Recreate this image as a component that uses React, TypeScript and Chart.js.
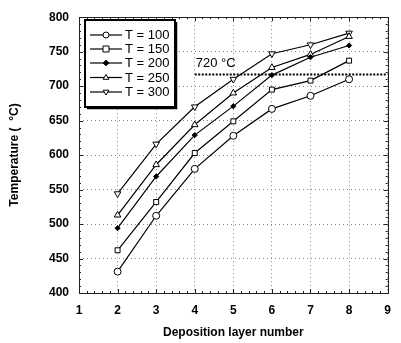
import React, { useEffect, useRef } from 'react';
import { Chart, registerables } from 'chart.js';
Chart.register(...registerables);

const layers = [2, 3, 4, 5, 6, 7, 8];
const t100 = [431, 512, 580, 628, 667, 686, 710];
const t150 = [462, 532, 603, 649, 695, 708, 737];
const t200 = [494, 569, 629, 671, 716, 742, 759];
const t250 = [513, 586, 644, 690, 727, 746, 772];
const t300 = [544, 616, 670, 710, 747, 760, 777];
const seriesLabels = ['T = 100', 'T = 150', 'T = 200', 'T = 250', 'T = 300'];
const thresholdValue = 717;
const thresholdRange = [4, 9];
const thresholdLabel = '720 °C';
const xTitle = 'Deposition layer number';
const yTitle = 'Temperature (  °C)';
const xRange = [1, 9];
const yRange = [400, 800];
const xStep = 1;
const yStep = 50;
const xMinorStep = 0.2;
const yMinorStep = 10;

const FONT = '"Liberation Sans", Arial, Helvetica, sans-serif';
const allSeries = [t100, t150, t200, t250, t300];
const pointStyles = ['circle', 'rect', 'rectRot', 'triangle', 'triangle'];
const pointRotations = [0, 0, 0, 0, 180];
const pointRadii = [3.5, 3.5, 2.6, 3.8, 3.8];
const pointFills = ['#fff', '#fff', '#000', '#fff', '#fff'];

function drawMarker(ctx: CanvasRenderingContext2D, style: string, rot: number, x: number, y: number, r: number, fill: string) {
  ctx.save();
  ctx.beginPath();
  if (style === 'circle') {
    ctx.arc(x, y, r, 0, Math.PI * 2);
  } else if (style === 'rect') {
    ctx.rect(x - r, y - r, 2 * r, 2 * r);
  } else if (style === 'rectRot') {
    ctx.moveTo(x, y - r * 1.3);
    ctx.lineTo(x + r * 1.3, y);
    ctx.lineTo(x, y + r * 1.3);
    ctx.lineTo(x - r * 1.3, y);
    ctx.closePath();
  } else {
    const s = rot === 180 ? -1 : 1;
    ctx.moveTo(x, y - s * r);
    ctx.lineTo(x + r * 0.95, y + s * r * 0.6);
    ctx.lineTo(x - r * 0.95, y + s * r * 0.6);
    ctx.closePath();
  }
  ctx.fillStyle = fill;
  ctx.fill();
  ctx.strokeStyle = '#000';
  ctx.lineWidth = 1;
  ctx.stroke();
  ctx.restore();
}

const decorPlugin = {
  id: 'decor',
  afterDraw(chart: any) {
    const { ctx, chartArea } = chart;
    const xs = chart.scales.x;
    const ys = chart.scales.y;
    const { left, right, top, bottom } = chartArea;
    ctx.save();
    // frame
    ctx.strokeStyle = '#222';
    ctx.lineWidth = 1;
    ctx.strokeRect(Math.round(left) + 0.5, Math.round(top) + 0.5, Math.round(right - left), Math.round(bottom - top));
    // ticks
    ctx.beginPath();
    for (let v = xRange[0]; v <= xRange[1] + 1e-6; v += xMinorStep) {
      const isMajor = Math.abs(v - Math.round(v / xStep) * xStep) < 1e-6;
      const len = isMajor ? 4 : 2;
      const px = Math.round(xs.getPixelForValue(v)) + 0.5;
      ctx.moveTo(px, bottom);
      ctx.lineTo(px, bottom - len);
      ctx.moveTo(px, top);
      ctx.lineTo(px, top + len);
    }
    for (let v = yRange[0]; v <= yRange[1] + 1e-6; v += yMinorStep) {
      const isMajor = Math.abs(v - Math.round(v / yStep) * yStep) < 1e-6;
      const len = isMajor ? 4 : 2;
      const py = Math.round(ys.getPixelForValue(v)) + 0.5;
      ctx.moveTo(left, py);
      ctx.lineTo(left + len, py);
      ctx.moveTo(right, py);
      ctx.lineTo(right - len, py);
    }
    ctx.stroke();

    // threshold label
    ctx.fillStyle = '#000';
    ctx.font = `13px ${FONT}`;
    ctx.textAlign = 'left';
    ctx.textBaseline = 'middle';
    ctx.fillText(thresholdLabel, xs.getPixelForValue(thresholdRange[0]) + 1, ys.getPixelForValue(thresholdValue) - 11);

    // axis titles
    ctx.font = `bold 12px ${FONT}`;
    ctx.textAlign = 'center';
    ctx.textBaseline = 'middle';
    ctx.fillText(xTitle, (left + right) / 2, 333);
    ctx.save();
    ctx.translate(15, 155);
    ctx.rotate(-Math.PI / 2);
    ctx.fillText(yTitle, 0, 0);
    ctx.restore();

    // legend
    const bx = 85, by = 20, bw = 90, bh = 87;
    ctx.fillStyle = '#fff';
    ctx.fillRect(bx, by, bw, bh);
    ctx.strokeStyle = '#000';
    ctx.lineWidth = 2;
    ctx.strokeRect(bx, by, bw, bh);
    ctx.lineWidth = 1.5;
    ctx.beginPath();
    ctx.moveTo(bx + 2, by + bh + 1.5);
    ctx.lineTo(bx + bw + 1.5, by + bh + 1.5);
    ctx.lineTo(bx + bw + 1.5, by + 2);
    ctx.stroke();
    const rowsY = [35, 49, 63, 77.5, 92];
    seriesLabels.forEach((lab, i) => {
      const y = rowsY[i];
      ctx.strokeStyle = '#000';
      ctx.lineWidth = 1.2;
      ctx.beginPath();
      ctx.moveTo(90, y);
      ctx.lineTo(122, y);
      ctx.stroke();
      drawMarker(ctx, pointStyles[i], pointRotations[i], 106, y, i === 2 ? 2.2 : 3, pointFills[i]);
      ctx.fillStyle = '#000';
      ctx.font = `13px ${FONT}`;
      ctx.textAlign = 'left';
      ctx.textBaseline = 'middle';
      ctx.fillText(lab, 125, y + 0.5);
    });
    ctx.restore();
  },
};

export default function App() {
  const ref = useRef<HTMLCanvasElement>(null);
  useEffect(() => {
    if (!ref.current) return;
    const datasets: any[] = allSeries.map((s, i) => ({
      label: seriesLabels[i],
      data: layers.map((x, j) => ({ x, y: s[j] })),
      borderColor: '#000',
      borderWidth: 1.2,
      pointStyle: pointStyles[i],
      pointRotation: pointRotations[i],
      pointRadius: pointRadii[i],
      pointBackgroundColor: pointFills[i],
      pointBorderColor: '#000',
      pointBorderWidth: 1,
      fill: false,
      tension: 0,
    }));
    datasets.push({
      label: 'threshold',
      data: thresholdRange.map((x) => ({ x, y: thresholdValue })),
      borderColor: '#000',
      borderWidth: 2,
      borderDash: [2, 1.5],
      pointRadius: 0,
      fill: false,
    });
    const chart = new Chart(ref.current, {
      type: 'line',
      data: { datasets },
      options: {
        animation: false,
        responsive: false,
        maintainAspectRatio: false,
        layout: { padding: { top: 14, right: 5, left: 0, bottom: 0 } },
        plugins: { legend: { display: false }, tooltip: { enabled: false } },
        scales: {
          x: {
            type: 'linear',
            min: xRange[0],
            max: xRange[1],
            afterFit: (s: any) => { s.height = 50; },
            ticks: { stepSize: xStep, color: '#000', font: { family: FONT, size: 12, weight: 'bold' }, padding: 10 },
            grid: { color: '#888', lineWidth: 1, drawTicks: false },
            border: { display: false, dash: [1, 3] },
          },
          y: {
            type: 'linear',
            min: yRange[0],
            max: yRange[1],
            afterFit: (s: any) => { s.width = 79; },
            ticks: { stepSize: yStep, color: '#000', font: { family: FONT, size: 12, weight: 'bold' }, padding: 10 },
            grid: { color: '#888', lineWidth: 1, drawTicks: false },
            border: { display: false, dash: [1, 3] },
          },
        },
      },
      plugins: [decorPlugin],
    });
    return () => chart.destroy();
  }, []);
  return (
    <div style={{ position: 'absolute', left: 0, top: 0, width: 401, height: 343, background: '#fff' }}>
      <canvas ref={ref} width={401} height={343} style={{ width: 401, height: 343 }} />
    </div>
  );
}
